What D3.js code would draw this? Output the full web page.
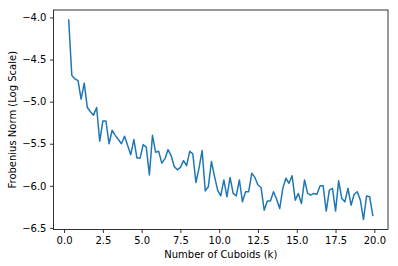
<!DOCTYPE html>
<html><head><meta charset="utf-8">
<script src="https://cdn.jsdelivr.net/npm/d3@7"></script>
<style>
html,body{margin:0;padding:0;background:#fff;}
svg text{font-family:"DejaVu Sans",sans-serif;}
</style></head>
<body><svg id="c" width="398" height="266"></svg>
<script>
const kValues = [0.3,0.5,0.7,0.9,1.1,1.3,1.5,1.7,1.9,2.1,2.3,2.5,2.7,2.9,3.1,3.3,3.5,3.7,3.9,4.1,
4.3,4.5,4.7,4.9,5.1,5.3,5.5,5.7,5.9,6.1,6.3,6.5,6.7,6.9,7.1,7.3,7.5,7.7,7.9,8.1,
8.3,8.5,8.7,8.9,9.1,9.3,9.5,9.7,9.9,10.1,10.3,10.5,10.7,10.9,11.1,11.3,11.5,11.7,11.9,12.1,
12.3,12.5,12.7,12.9,13.1,13.3,13.5,13.7,13.9,14.1,14.3,14.5,14.7,14.9,15.1,15.3,15.5,15.7,15.9,16.1,
16.3,16.5,16.7,16.9,17.1,17.3,17.5,17.7,17.9,18.1,18.3,18.5,18.7,18.9,19.1,19.3,19.5,19.7,19.9];
const normValues = [-4.03,-4.69,-4.73,-4.75,-4.97,-4.78,-5.07,-5.12,-5.16,-5.07,
-5.47,-5.23,-5.23,-5.50,-5.34,-5.40,-5.45,-5.50,-5.41,-5.52,
-5.63,-5.45,-5.67,-5.67,-5.51,-5.54,-5.87,-5.40,-5.60,-5.59,
-5.73,-5.68,-5.57,-5.64,-5.77,-5.81,-5.78,-5.70,-5.76,-5.59,
-5.62,-5.96,-5.79,-5.58,-6.06,-6.01,-5.71,-5.89,-6.05,-6.12,
-5.93,-6.13,-5.90,-6.09,-6.12,-5.93,-6.19,-6.07,-6.07,-5.85,
-5.90,-5.99,-6.02,-6.29,-6.18,-6.18,-6.07,-6.16,-6.27,-6.03,
-5.91,-5.97,-5.88,-6.17,-6.09,-6.21,-5.93,-6.09,-6.11,-6.09,
-6.10,-6.00,-6.00,-6.30,-6.05,-6.03,-6.30,-5.94,-6.15,-6.19,
-6.03,-6.23,-6.10,-6.07,-6.17,-6.40,-6.12,-6.13,-6.35];
const xTicks = [0,2.5,5,7.5,10,12.5,15,17.5,20];
const yTicks = [-6.5,-6.0,-5.5,-5.0,-4.5,-4.0];
const xLabel = "Number of Cuboids (k)";
const yLabel = "Frobenius Norm (Log Scale)";

const L=53.5, R=388, T=10, B=229.5;
const svg = d3.select("#c");
const [xmin,xmax] = d3.extent(kValues), [ymin,ymax] = d3.extent(normValues);
const xp=(xmax-xmin)*0.05, yp=(ymax-ymin)*0.05;
const x = d3.scaleLinear().domain([xmin-xp,xmax+xp]).range([L,R]);
const y = d3.scaleLinear().domain([ymin-yp,ymax+yp]).range([B,T]);

const line = d3.line().x((d,i)=>x(kValues[i])).y(d=>y(d));
svg.append("path").datum(normValues).attr("d",line)
  .attr("fill","none").attr("stroke","#1f77b4").attr("stroke-width",1.5)
  .attr("stroke-linejoin","round").attr("stroke-linecap","square");

const xa = svg.append("g").attr("transform",`translate(0,${B})`)
  .call(d3.axisBottom(x).tickValues(xTicks).tickFormat(d3.format(".1f")).tickSize(3.5).tickPadding(3.5).tickSizeOuter(0));
const ya = svg.append("g").attr("transform",`translate(${L},0)`)
  .call(d3.axisLeft(y).tickValues(yTicks).tickFormat(d3.format(".1f")).tickSize(3.5).tickPadding(3.5).tickSizeOuter(0));
[xa,ya].forEach(a=>{
  a.select(".domain").remove();
  a.selectAll(".tick line").attr("stroke","#000").attr("stroke-width",0.8);
  a.selectAll(".tick text").attr("fill","#000").style("font-size","10px");
});
svg.append("rect").attr("x",L).attr("y",T).attr("width",R-L).attr("height",B-T)
  .attr("fill","none").attr("stroke","#000").attr("stroke-width",0.8);

svg.append("text").attr("x",(L+R)/2).attr("y",258).attr("text-anchor","middle")
  .style("font-size","10px").attr("fill","#000").text(xLabel);
svg.append("text").attr("transform",`translate(16,${(T+B)/2}) rotate(-90)`).attr("text-anchor","middle")
  .style("font-size","10px").attr("fill","#000").text(yLabel);
</script></body></html>
